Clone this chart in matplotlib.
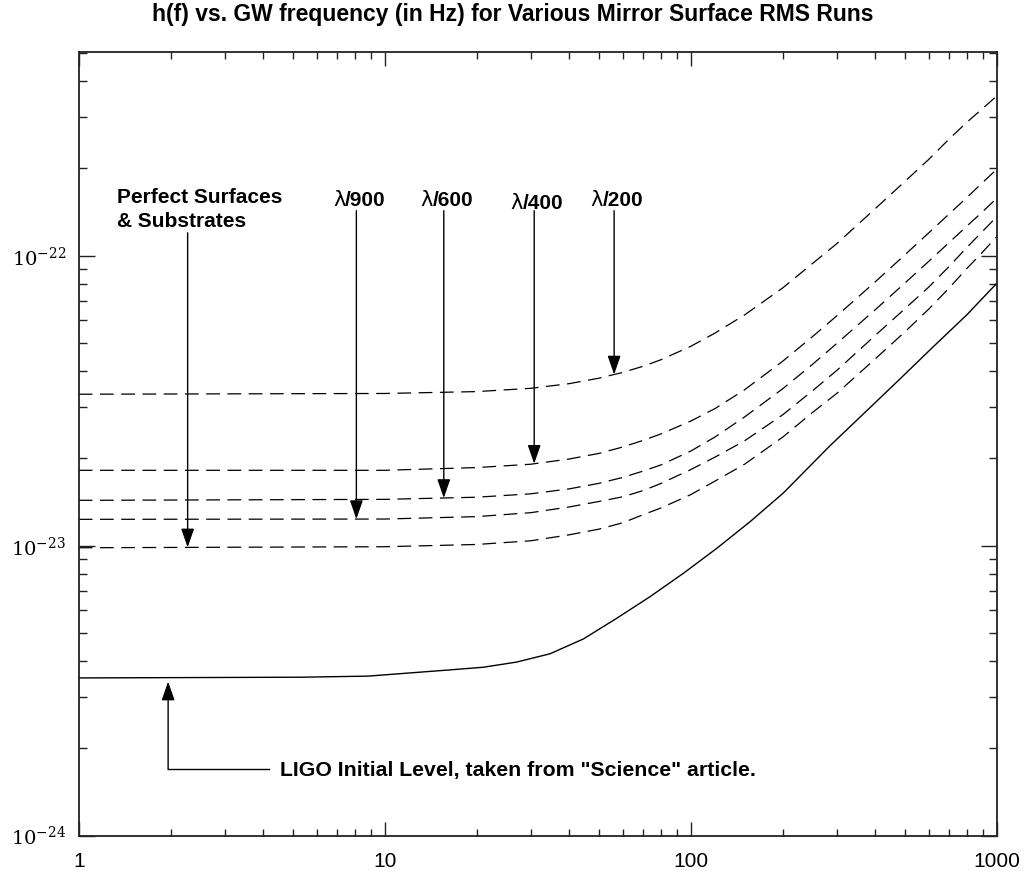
import numpy as np
import matplotlib
matplotlib.use("Agg")
import matplotlib.pyplot as plt
from matplotlib.ticker import FixedLocator, LogLocator, NullFormatter

# ---------------- data ----------------
freq_ligo = [1, 5.3, 8.8, 16.3, 21.0, 27.0, 34.7, 44.6, 57.3, 73.6, 94.6,
             121.6, 156.3, 200.8, 285, 376, 483, 621, 798, 1000]
h_ligo = [3.50e-24, 3.52e-24, 3.55e-24, 3.73e-24, 3.81e-24, 3.97e-24, 4.24e-24,
          4.77e-24, 5.62e-24, 6.67e-24, 8.03e-24, 9.79e-24, 1.21e-23, 1.52e-23,
          2.21e-23, 2.92e-23, 3.76e-23, 4.86e-23, 6.25e-23, 8.03e-23]

freq_dash = [1, 10, 20, 30, 40, 50, 60, 70, 80, 100, 120, 150, 200, 250, 300,
             400, 500, 600, 700, 800, 900, 1000]
h_perfect = [9.84e-24, 9.92e-24, 1.01e-23, 1.04e-23, 1.09e-23, 1.14e-23,
             1.20e-23, 1.28e-23, 1.35e-23, 1.50e-23, 1.67e-23, 1.91e-23,
             2.37e-23, 2.88e-23, 3.35e-23, 4.40e-23, 5.45e-23, 6.55e-23,
             7.75e-23, 9.05e-23, 1.03e-22, 1.163e-22]
h_900 = [1.233e-23, 1.236e-23, 1.26e-23, 1.30e-23, 1.36e-23, 1.42e-23,
         1.475e-23, 1.55e-23, 1.64e-23, 1.83e-23, 2.02e-23, 2.30e-23,
         2.83e-23, 3.42e-23, 4.02e-23, 5.30e-23, 6.55e-23, 7.80e-23,
         9.20e-23, 1.07e-22, 1.215e-22, 1.363e-22]
h_600 = [1.434e-23, 1.445e-23, 1.47e-23, 1.51e-23, 1.57e-23, 1.64e-23,
         1.72e-23, 1.81e-23, 1.90e-23, 2.12e-23, 2.37e-23, 2.78e-23,
         3.48e-23, 4.22e-23, 4.98e-23, 6.50e-23, 8.03e-23, 9.57e-23,
         1.112e-22, 1.267e-22, 1.42e-22, 1.577e-22]
h_400 = [1.82e-23, 1.82e-23, 1.86e-23, 1.91e-23, 1.99e-23, 2.08e-23,
         2.19e-23, 2.31e-23, 2.43e-23, 2.69e-23, 2.97e-23, 3.45e-23,
         4.33e-23, 5.26e-23, 6.20e-23, 8.11e-23, 1.005e-22, 1.20e-22,
         1.395e-22, 1.59e-22, 1.79e-22, 1.986e-22]
h_200 = [3.33e-23, 3.35e-23, 3.40e-23, 3.49e-23, 3.62e-23, 3.78e-23,
         3.96e-23, 4.16e-23, 4.38e-23, 4.87e-23, 5.41e-23, 6.25e-23,
         7.75e-23, 9.40e-23, 1.10e-22, 1.45e-22, 1.80e-22, 2.15e-22,
         2.53e-22, 2.89e-22, 3.22e-22, 3.554e-22]

x_ticks = [1, 10, 100, 1000]
x_tick_labels = ["1", "10", "100", "1000"]
y_ticks = [1e-24, 1e-23, 1e-22]
y_tick_labels = [r"$10^{-24}$", r"$10^{-23}$", r"$10^{-22}$"]

title = "h(f) vs. GW frequency (in Hz) for Various Mirror Surface RMS Runs"
rms_labels = ["/900", "/600", "/400", "/200"]
rms_arrow_freq = [8.08, 15.6, 30.8, 56.2]
perfect_label = ["Perfect Surfaces", "& Substrates"]
perfect_arrow_freq = 2.27
ligo_label = 'LIGO Initial Level, taken from "Science" article.'
ligo_arrow_freq = 1.96

# ---------------- figure ----------------
plt.rcParams["mathtext.fontset"] = "dejavuserif"
W, H = 1026, 871
fig = plt.figure(figsize=(W / 100, H / 100), dpi=100)
L, R, T, B = 78.7, 996.7, 52.3, 835.7
ax = fig.add_axes([L / W, 1 - B / H, (R - L) / W, (B - T) / H])
ax.set_xscale("log")
ax.set_yscale("log")
ax.set_xlim(1, 1000)
ax.set_ylim(1e-24, 5.03e-22)

ax.plot(freq_ligo, h_ligo, color="black", lw=1.0)
dashed = [h_perfect, h_900, h_600, h_400, h_200]
for hv in dashed:
    ax.plot(freq_dash, hv, color="black", lw=0.9, dashes=(11, 6))

# axes styling
for s in ax.spines.values():
    s.set_linewidth(1.3)
    s.set_color("#222222")
ax.xaxis.set_major_locator(FixedLocator(x_ticks))
ax.set_xticklabels(x_tick_labels, fontsize=15, family="Liberation Sans")
ax.xaxis.set_minor_locator(LogLocator(base=10, subs=np.arange(2, 10)))
ax.xaxis.set_minor_formatter(NullFormatter())
ax.yaxis.set_major_locator(FixedLocator(y_ticks))
ax.set_yticklabels(y_tick_labels, fontsize=14)
ax.yaxis.set_minor_locator(LogLocator(base=10, subs=np.arange(2, 10), numticks=20))
ax.yaxis.set_minor_formatter(NullFormatter())
ax.tick_params(which="both", direction="in", top=True, right=True,
               color="#222222", width=1.0)
ax.tick_params(axis="x", which="major", length=10, pad=12)
ax.tick_params(axis="x", which="minor", length=5)
ax.tick_params(axis="y", which="major", length=11.5, pad=9)
ax.tick_params(axis="y", which="minor", length=5.5)

fig.text(513 / W, 1 - 21 / H, title, ha="center", va="baseline",
         fontsize=16.5, fontweight="bold", family="Liberation Sans")

bold = dict(fontsize=15, fontweight="bold", family="Liberation Sans")
head = "-|>,head_length=11.5,head_width=4"


def on_curve(f, fr, hv):
    return 10 ** np.interp(np.log10(f), np.log10(fr), np.log10(hv))


# lambda arrows
rms_curves = [h_900, h_600, h_400, h_200]
label_h = [1.48e-22, 1.48e-22, 1.45e-22, 1.48e-22]
for lab, f, hv, lh in zip(rms_labels, rms_arrow_freq, rms_curves, label_h):
    tip = on_curve(f, freq_dash, hv)
    ax.annotate("", xy=(f, tip), xytext=(f, 1.43e-22),
                arrowprops=dict(arrowstyle=head, color="black", lw=1.0,
                                shrinkA=0, shrinkB=0, mutation_scale=1))
    ax.annotate("\u03bb", xy=(f, lh), xytext=(-8, 0), textcoords="offset points",
                ha="right", va="baseline", fontsize=15, family="DejaVu Sans")
    ax.annotate(lab, xy=(f, lh), xytext=(-8, 0), textcoords="offset points",
                ha="left", va="baseline", **bold)

# perfect surfaces arrow
tip = on_curve(perfect_arrow_freq, freq_dash, h_perfect)
ax.annotate("", xy=(perfect_arrow_freq, tip), xytext=(perfect_arrow_freq, 1.2e-22),
            arrowprops=dict(arrowstyle=head, color="black", lw=1.0,
                            shrinkA=0, shrinkB=0, mutation_scale=1))
ax.text(1.334, 1.52e-22, perfect_label[0], ha="left", va="baseline", **bold)
ax.text(1.334, 1.256e-22, perfect_label[1], ha="left", va="baseline", **bold)

# LIGO arrow
ligo_line_h = 1.694e-24
ax.plot([ligo_arrow_freq, 4.2], [ligo_line_h, ligo_line_h], color="black", lw=1.0)
ax.annotate("", xy=(ligo_arrow_freq, 3.40e-24), xytext=(ligo_arrow_freq, ligo_line_h),
            arrowprops=dict(arrowstyle=head, color="black", lw=1.0,
                            shrinkA=0, shrinkB=0, mutation_scale=1))
ax.text(4.55, 1.607e-24, ligo_label, ha="left", va="baseline",
        fontsize=15.3, fontweight="bold", family="Liberation Sans")

fig.savefig("out.png", dpi=100)
